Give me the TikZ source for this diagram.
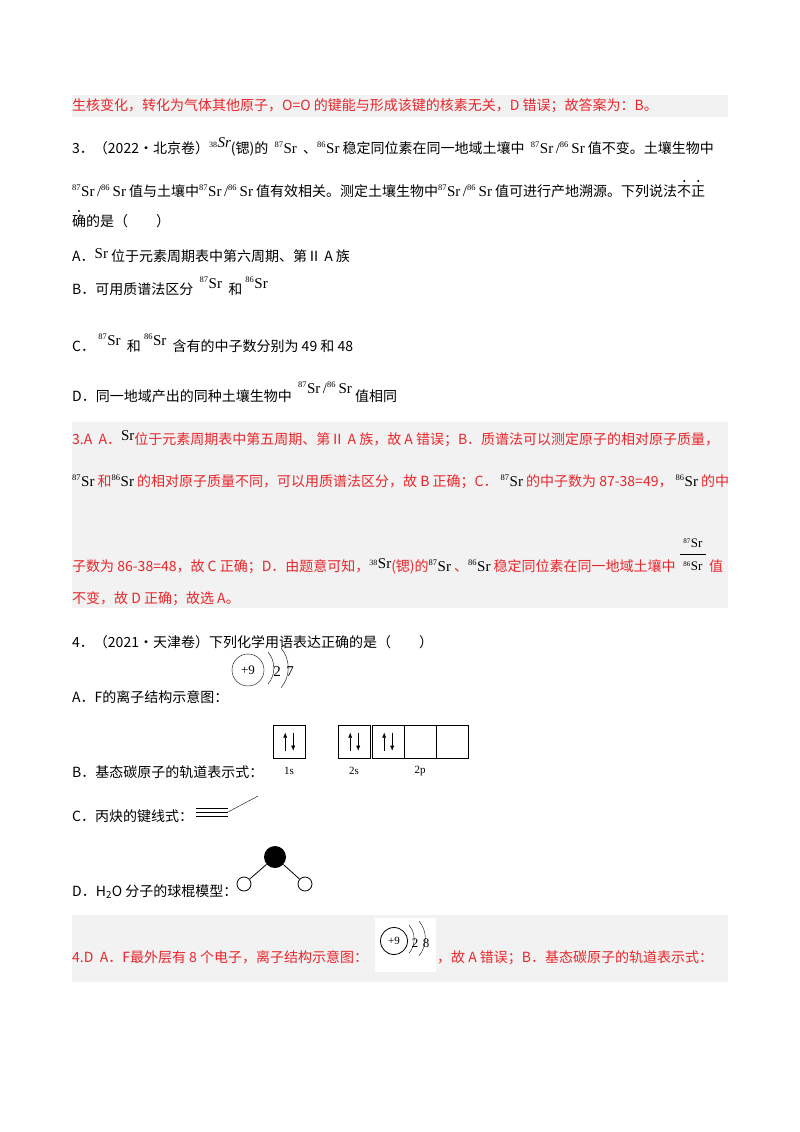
\documentclass[tikz,border=0pt]{standalone}
\usepackage{fontspec}
\usetikzlibrary{arrows.meta}
\setmainfont{Noto Sans CJK SC}
\newfontfamily\srf{Liberation Serif}
\newcommand{\iso}[1]{{\srf\fontsize{15}{15}\selectfont\textsuperscript{\fontsize{8.5}{8}\selectfont #1}Sr}}
\newcommand{\rat}{{\srf\fontsize{15}{15}\selectfont\textsuperscript{\fontsize{8.5}{8}\selectfont 87}Sr\,/\textsuperscript{\fontsize{8.5}{8}\selectfont 86}\,Sr}}
\definecolor{ans}{HTML}{E8262B}
\definecolor{bg}{HTML}{F2F2F2}
\begin{document}
\begin{tikzpicture}[x=1pt,y=-1pt,
 txt/.style={anchor=base west,inner sep=0pt,font=\fontsize{14}{15}\selectfont},
 red/.style={txt,text=ans},
 lab/.style={inner sep=0pt,font=\srf\fontsize{11}{12}\selectfont}]
\useasboundingbox (0,0) rectangle (800,1132);
\fill[bg] (72,95) rectangle (728,117);
\fill[bg] (72,422) rectangle (728,608);
\fill[bg] (72,915) rectangle (728,982);
\node[red] (l0) at (72,110) {生核变化，转化为气体其他原子，O=O 的键能与形成该键的核素无关，D 错误；故答案为：B。};
\node[txt] (q3a) at (72,153) {3．（2022·北京卷）{\srf\textsuperscript{\fontsize{8}{8}\selectfont 38}\textit{\fontsize{15}{15}\selectfont\raisebox{6pt}{Sr}}}(锶)的 \ \iso{87} \ 、\iso{86} 稳定同位素在同一地域土壤中 \ \rat\ 值不变。土壤生物中};
\node[txt] (q3b) at (72,196) {\rat\ 值与土壤中\rat\ 值有效相关。测定土壤生物中\rat\ 值可进行产地溯源。下列说法不正};
\node[txt] (q3c) at (72,226) {确的是（　　）};
\fill ([xshift=-21pt,yshift=15pt]q3b.base east) circle (1.1) ([xshift=-7pt,yshift=15pt]q3b.base east) circle (1.1) ([xshift=7pt,yshift=15pt]q3c.base west) circle (1.1);
\node[txt] (qa) at (72,261) {A．{\srf\fontsize{15}{15}\selectfont\raisebox{3pt}{Sr}} 位于元素周期表中第六周期、第Ⅱ A 族};
\node[txt] (qb) at (72,294) {B．可用质谱法区分 \ \raisebox{6pt}{\iso{87}} \ 和 \raisebox{6pt}{\iso{86}}};
\node[txt] (qc) at (72,351) {C． \raisebox{6pt}{\iso{87}} \ 和 \raisebox{6pt}{\iso{86}} \ 含有的中子数分别为 49 和 48};
\node[txt] (qd) at (72,401) {D．同一地域产出的同种土壤生物中 \ \raisebox{8pt}{\rat} 值相同};
\node[red] (a1) at (72,444) {3.A \ A．{\srf\color{black}\fontsize{15}{15}\selectfont\raisebox{4pt}{Sr}}位于元素周期表中第五周期、第Ⅱ A 族，故 A 错误；B．质谱法可以测定原子的相对原子质量，};
\node[red] (a2) at (72,486) {{\color{black}\iso{87}} 和{\color{black}\iso{86}} 的相对原子质量不同，可以用质谱法区分，故 B 正确；C． {\color{black}\iso{87}} 的中子数为 87-38=49， {\color{black}\iso{86}} 的中};
\node[red] (a3) at (72,571) {子数为 86-38=48，故 C 正确；D．由题意可知，{\srf\color{black}\textsuperscript{\fontsize{8}{8}\selectfont 38}\fontsize{15}{15}\selectfont\raisebox{3pt}{Sr}}(锶)的{\color{black}\iso{87}} 、{\color{black}\iso{86}} 稳定同位素在同一地域土壤中};
\node[red] (a3b) at (709,571) {值};
\node[lab,font=\srf\fontsize{13}{13}\selectfont] (fr1) at (693,543) {\textsuperscript{\fontsize{7}{7}\selectfont 87}Sr};
\node[lab,font=\srf\fontsize{13}{13}\selectfont] (fr2) at (693,566) {\textsuperscript{\fontsize{7}{7}\selectfont 86}Sr};
\draw (680,554) -- (706,554);
\node[red] (a4) at (72,603) {不变，故 D 正确；故选 A。};
\node[txt] (q4) at (72,647) {4．（2021·天津卷）下列化学用语表达正确的是（　　）};
% A
\node[txt] (o1) at (72,702) {A．F的离子结构示意图：};
\node[draw,circle,minimum size=32pt,inner sep=0pt,lab,font=\srf\fontsize{13}{13}\selectfont] (nuc) at (248,670) {+9};
\draw (268,652) arc[start angle=-40,end angle=40,radius=25];
\draw (281,648) arc[start angle=-40,end angle=40,radius=31];
\node[lab,font=\srf\fontsize{15}{15}\selectfont] (e1) at (277,672) {2};
\node[lab,font=\srf\fontsize{15}{15}\selectfont] (e2) at (290,672) {7};
% B
\node[txt] (o2) at (72,777) {B．基态碳原子的轨道表示式：};
\foreach \x/\n in {273/b1,338/b2,372/b3,404/b4,436/b5}{\node[draw,minimum width=32pt,minimum height=33pt,inner sep=0pt,anchor=north west] (\n) at (\x,725) {};}
\foreach \n in {b1,b2,b3}{
 \draw[-{Latex[length=5pt,width=4pt]}] ([xshift=-4pt,yshift=-9pt]\n.center) -- ([xshift=-4pt,yshift=9pt]\n.center);
 \draw[-{Latex[length=5pt,width=4pt]}] ([xshift=4pt,yshift=9pt]\n.center) -- ([xshift=4pt,yshift=-9pt]\n.center);}
\node[lab] (s1) at (289,771) {1s};
\node[lab] (s2) at (354,771) {2s};
\node[lab] (s3) at (420,771) {2p};
% C
\node[txt] (o3) at (72,821) {C．丙炔的键线式：};
\draw (196,808) -- (228,808) (196,812) -- (228,812) (196,816) -- (228,816);
\coordinate (c1) at (228,812);
\coordinate (c2) at (258,796);
\draw (c1) -- (c2);
% D
\node[txt] (o4) at (72,896) {D．H\textsubscript{2}O 分子的球棍模型：};
\node[circle,fill=black,minimum size=22pt,inner sep=0pt] (ob) at (275,857) {};
\node[circle,draw,thick,minimum size=14pt,inner sep=0pt] (h1) at (244,884) {};
\node[circle,draw,thick,minimum size=14pt,inner sep=0pt] (h2) at (305,884) {};
\draw[thick] (ob) -- (h1) (ob) -- (h2);
% answer 4
\fill[white] (375,918) rectangle (436,972);
\node[red] (a5) at (72,962) {4.D \ A．F最外层有 8 个电子，离子结构示意图：};
\node[red] (a6) at (437,962) {，故 A 错误；B．基态碳原子的轨道表示式：};
\node[draw,circle,thick,minimum size=27pt,inner sep=0pt,lab] (nuc2) at (394,941) {+9};
\draw (409,925) arc[start angle=-40,end angle=40,radius=22];
\draw (419,921) arc[start angle=-40,end angle=40,radius=27];
\node[lab,font=\srf\fontsize{13}{13}\selectfont] (f1) at (415,943) {2};
\node[lab,font=\srf\fontsize{13}{13}\selectfont] (f2) at (426,943) {8};
\end{tikzpicture}
\end{document}
